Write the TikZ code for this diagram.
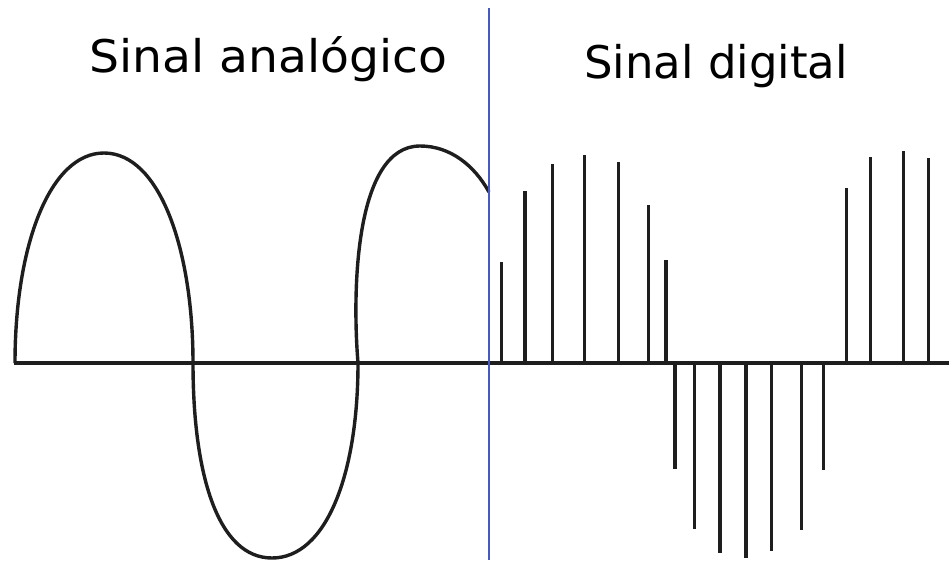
\documentclass[tikz,border=0pt]{standalone}
\usepackage{fontspec}
\setmainfont{DejaVu Sans}
\definecolor{sepblue}{RGB}{70,90,195}
\definecolor{ink}{RGB}{30,30,30}
\tikzset{
  wave/.style={draw=ink, line width=3.4pt},
  axisline/.style={draw=ink, line width=3.4pt},
  sample/.style={draw=ink, line width=3.4pt},
  divider/.style={draw=sepblue, line width=2.6pt},
  title/.style={font=\fontsize{45}{54}\selectfont, text=black, inner sep=0pt, anchor=base west}
}
\begin{document}
\begin{tikzpicture}[x=1pt,y=-1pt]
\useasboundingbox[fill=white] (0,0) rectangle (949,560);
% labels
\node[title] (tA) at (89,72) {\scalebox{1.05}[1]{Sinal analógico}};
\node[title] (tD) at (584,78) {\scalebox{1.0}[1]{Sinal digital}};
% axis
\coordinate (axL) at (14,363);
\coordinate (axR) at (949,363);
\draw[axisline] (axL) -- (axR);
% analog wave
\draw[wave] (15,363) .. controls (15,245) and (50,153) .. (104,153)
  .. controls (160,153) and (193,250) .. (193,363)
  .. controls (193,475) and (218,558) .. (272,558)
  .. controls (326,558) and (358,475) .. (358,363)
  .. controls (352,290) and (355,146) .. (420,146)
  .. controls (450,146) and (474,165) .. (489,192);
% digital samples
\foreach \x/\y in {501.7/262,525/191,552.7/164,584.3/155,618.3/162,648.3/205,666/260,
  675/469,694.3/529,720/553,746/558,771.7/551,801.7/530,823.3/470,
  846.7/188,870.7/157,903.3/151,928.3/158}{
  \draw[sample] (\x,363) -- (\x,\y);
}
% divider
\coordinate (dT) at (489,8);
\coordinate (dB) at (489,560);
\draw[divider] (dT) -- (dB);
\end{tikzpicture}
\end{document}
